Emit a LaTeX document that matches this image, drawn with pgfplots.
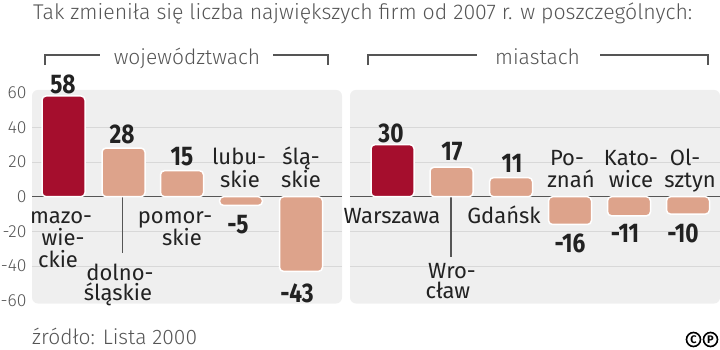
\documentclass[border=0pt]{standalone}
\usepackage{fontspec}
\usepackage{pgfplots}
\pgfplotsset{compat=1.18}
\setmainfont{Fira Sans Light}
\newfontfamily\rg{Fira Sans}
\newfontfamily\bc[FakeStretch=0.84]{Fira Sans}
\definecolor{dred}{HTML}{A50E2D}
\definecolor{salmon}{HTML}{DDA38B}
\definecolor{panel}{HTML}{EFEFEF}
\definecolor{gridc}{HTML}{D8D8D8}
\definecolor{txt}{HTML}{222222}
\definecolor{ltxt}{HTML}{555555}
\definecolor{zero}{HTML}{555555}
\newcommand{\cat}{\rg\fontsize{22}{22}\selectfont\color{txt}}
\newcommand{\val}{\bc\bfseries\fontsize{27}{27}\selectfont\color{txt}}
\begin{document}
\begin{tikzpicture}
\useasboundingbox (0,0) rectangle (720pt,349pt);
\begin{axis}[at={(32pt,45.5pt)}, anchor=south west, scale only axis,
  width=688pt, height=213.6pt,
  xmin=32, xmax=720, ymin=-61.5, ymax=61.5,
  axis line style={draw=none}, tick style={draw=none},
  xtick=\empty, ytick={-60,-40,...,60},
  /pgf/number format/assume math mode=true,
  yticklabel style={font=\fontsize{17.5}{17.5}\selectfont, text=ltxt, anchor=east, xshift=-2pt},
  clip=false]
\fill[panel, rounded corners=6pt] (axis cs:32,-61.5) rectangle (axis cs:342,61.5);
\fill[panel, rounded corners=6pt] (axis cs:350,-61.5) rectangle (axis cs:720,61.5);
\draw[gridc, line width=0.8pt] (axis cs:32,40) -- (axis cs:342,40);
\draw[gridc, line width=0.8pt] (axis cs:32,20) -- (axis cs:342,20);
\draw[gridc, line width=0.8pt] (axis cs:32,-20) -- (axis cs:342,-20);
\draw[gridc, line width=0.8pt] (axis cs:32,-40) -- (axis cs:342,-40);
\draw[gridc, line width=0.8pt] (axis cs:350,40) -- (axis cs:720,40);
\draw[gridc, line width=0.8pt] (axis cs:350,20) -- (axis cs:720,20);
\draw[gridc, line width=0.8pt] (axis cs:350,-20) -- (axis cs:720,-20);
\draw[gridc, line width=0.8pt] (axis cs:350,-40) -- (axis cs:720,-40);
\draw[zero, line width=1.3pt] (axis cs:32,0) -- (axis cs:342,0);
\draw[zero, line width=1.3pt] (axis cs:350,0) -- (axis cs:720,0);
\draw[zero, line width=1.3pt] (axis cs:122.5,0) -- (axis cs:122.5,-32.5);
\draw[zero, line width=1.3pt] (axis cs:451,0) -- (axis cs:451,-35);
\addplot[ybar, bar shift=0pt, bar width=43, fill=dred, draw=white, line width=1.5pt, rounded corners=4pt]
  coordinates {(63.5,58) (392.5,30)};
\addplot[ybar, bar shift=0pt, bar width=43, fill=salmon, draw=white, line width=1.5pt, rounded corners=4pt]
  coordinates {(123.5,28) (182,15) (241,-5) (301,-43) (451.5,17) (511,11) (570,-16) (629,-11) (688,-10)};
\end{axis}
\begin{scope}[x=1pt,y=-1pt,yshift=349pt]
\node[anchor=base west, inner sep=0, text=ltxt, font=\fontsize{21.3}{21.3}\selectfont] at (33,20) {Tak zmieniła się liczba największych firm od 2007 r. w poszczególnych:};
% headings
\node[anchor=base, inner sep=0, text=ltxt, font=\fontsize{21}{21}\selectfont] at (187,65) {województwach};
\node[anchor=base, inner sep=0, text=ltxt, font=\fontsize{21}{21}\selectfont] at (537.5,65) {miastach};
\draw[ltxt, line width=1.2pt] (45,65) -- (45,55) -- (100,55);
\draw[ltxt, line width=1.2pt] (273,55) -- (328,55) -- (328,65);
\draw[ltxt, line width=1.2pt] (368,65) -- (368,55) -- (477,55);
\draw[ltxt, line width=1.2pt] (600,55) -- (708,55) -- (708,65);
% values
\node[anchor=base, inner sep=0, font=\val] at (63,93) {58};
\node[anchor=base, inner sep=0, font=\val] at (122,143) {28};
\node[anchor=base, inner sep=0, font=\val] at (182,165) {15};
\node[anchor=base, inner sep=0, font=\val] at (238,233) {-5};
\node[anchor=base, inner sep=0, font=\val] at (297,302) {-43};
\node[anchor=base, inner sep=0, font=\val] at (391,142) {30};
\node[anchor=base, inner sep=0, font=\val] at (452,160) {17};
\node[anchor=base, inner sep=0, font=\val] at (512,172) {11};
\node[anchor=base, inner sep=0, font=\val] at (570,252) {-16};
\node[anchor=base, inner sep=0, font=\val] at (625,242) {-11};
\node[anchor=base, inner sep=0, font=\val] at (683,242) {-10};
% categories
\node[anchor=base, inner sep=0, font=\cat] at (61,223) {mazo-};
\node[anchor=base, inner sep=0, font=\cat] at (63,245) {wie-};
\node[anchor=base, inner sep=0, font=\cat] at (58,267) {ckie};
\node[anchor=base, inner sep=0, font=\cat] at (120,280) {dolno-};
\node[anchor=base, inner sep=0, font=\cat] at (118,300) {śląskie};
\node[anchor=base, inner sep=0, font=\cat] at (175,223) {pomor-};
\node[anchor=base, inner sep=0, font=\cat] at (182,245) {skie};
\node[anchor=base, inner sep=0, font=\cat] at (239,164) {lubu-};
\node[anchor=base, inner sep=0, font=\cat] at (240,187) {skie};
\node[anchor=base, inner sep=0, font=\cat] at (301,164) {ślą-};
\node[anchor=base, inner sep=0, font=\cat] at (301,187) {skie};
\node[anchor=base, inner sep=0, font=\cat] at (392,223) {Warszawa};
\node[anchor=base, inner sep=0, font=\cat] at (452,278) {Wro-};
\node[anchor=base, inner sep=0, font=\cat] at (448,298) {cław};
\node[anchor=base, inner sep=0, font=\cat] at (504,223) {Gdańsk};
\node[anchor=base, inner sep=0, font=\cat] at (567,165) {Po-};
\node[anchor=base, inner sep=0, font=\cat] at (571,187) {znań};
\node[anchor=base, inner sep=0, font=\cat] at (631,165) {Kato-};
\node[anchor=base, inner sep=0, font=\cat] at (631,187) {wice};
\node[anchor=base, inner sep=0, font=\cat] at (685,165) {Ol-};
\node[anchor=base, inner sep=0, font=\cat] at (690,187) {sztyn};
% footer
\node[anchor=base west, inner sep=0, text=ltxt, font=\fontsize{21}{21}\selectfont] at (32,344) {źródło: Lista 2000};
\node[circle, draw=black, line width=1.6pt, inner sep=0pt, minimum size=14pt, font=\rg\bfseries\fontsize{11}{11}\selectfont] at (693.5,339.5) {C};
\node[circle, draw=black, line width=1.6pt, inner sep=0pt, minimum size=14pt, font=\rg\bfseries\fontsize{11}{11}\selectfont] at (710.5,339.5) {P};
\end{scope}
\end{tikzpicture}
\end{document}
